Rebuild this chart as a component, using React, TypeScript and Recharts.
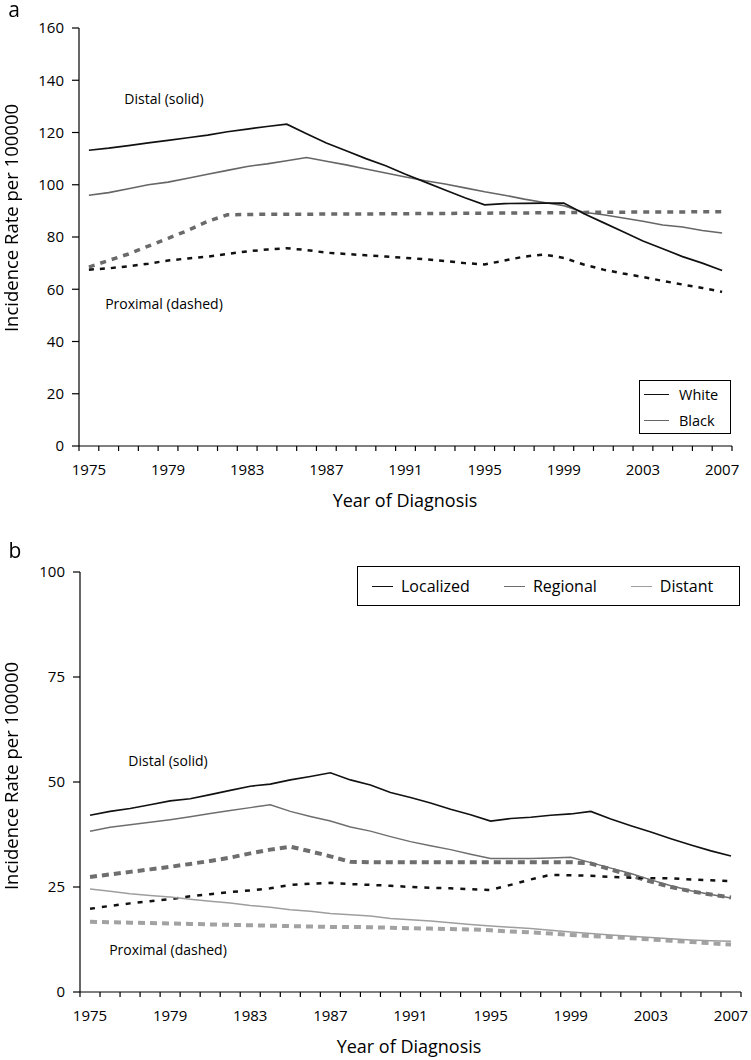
import React from "react";
import { LineChart, Line, XAxis, YAxis, Legend } from "recharts";

const FONT = "'Open Sans', sans-serif";

const years = [
  1975, 1976, 1977, 1978, 1979, 1980, 1981, 1982, 1983, 1984, 1985, 1986, 1987, 1988, 1989, 1990, 1991,
  1992, 1993, 1994, 1995, 1996, 1997, 1998, 1999, 2000, 2001, 2002, 2003, 2004, 2005, 2006, 2007,
];
const yearLabels = [1975, 1979, 1983, 1987, 1991, 1995, 1999, 2003, 2007];
const yTicksA = [0, 20, 40, 60, 80, 100, 120, 140, 160];
const yTicksB = [0, 25, 50, 75, 100];
const legendA = ["White", "Black"];
const legendB = ["Localized", "Regional", "Distant"];

// panel a: race
const whiteDistal = [
  113.2, 114, 115, 116, 117, 118, 119, 120.3, 121.3, 122.3, 123.2, 119.5, 116, 113, 110, 107.3, 104,
  101, 98, 95, 92.3, 92.8, 92.9, 93, 93, 89, 85.5, 82, 78.5, 75.5, 72.5, 70, 67.2,
];
const blackDistal = [
  96, 97, 98.5, 100, 101, 102.5, 104, 105.5, 107, 108, 109.2, 110.4, 109, 107.6, 106, 104.5, 103, 101.5,
  100.3, 98.8, 97.3, 96, 94.5, 93.2, 92, 89.5, 88.5, 87.3, 86, 84.6, 83.8, 82.5, 81.5,
];
const whiteProx = [
  67.5, 68, 68.8, 69.8, 71, 71.8, 72.5, 73.5, 74.5, 75.2, 75.7, 75, 74, 73.5, 73, 72.5, 72, 71.5, 70.8,
  70, 69.5, 71, 72.5, 73.3, 72, 69.5, 67.5, 66, 64.7, 63.2, 61.8, 60.5, 59,
];
const blackProx = [
  68.5, 71, 73.5, 76.5, 79.5, 82.5, 86, 88.5, 88.6, 88.7, 88.7, 88.7, 88.8, 88.8, 88.8, 88.9, 88.9, 89,
  89, 89.1, 89.1, 89.2, 89.2, 89.3, 89.3, 89.4, 89.5, 89.5, 89.6, 89.6, 89.6, 89.7, 89.7,
];

// panel b: stage
const localizedDistal = [
  42.1, 43, 43.7, 44.6, 45.5, 46, 47, 48, 49, 49.5, 50.5, 51.3, 52.2, 50.5, 49.3, 47.5, 46.3, 45, 43.5,
  42.2, 40.7, 41.3, 41.6, 42.1, 42.4, 43, 41.2, 39.6, 38.1, 36.5, 35, 33.6, 32.4,
];
const regionalDistal = [
  38.3, 39.2, 39.8, 40.4, 41, 41.7, 42.5, 43.2, 43.9, 44.6, 43, 41.8, 40.7, 39.3, 38.3, 37, 35.8, 34.8,
  33.9, 32.8, 31.8, 31.8, 31.8, 31.9, 32.1, 30.8, 29.5, 28.2, 26.7, 25.3, 24.1, 23.2, 22.4,
];
const distantDistal = [
  24.5, 24, 23.4, 23, 22.6, 22.1, 21.6, 21.2, 20.6, 20.2, 19.6, 19.2, 18.7, 18.4, 18.1, 17.5, 17.2, 16.9,
  16.5, 16.1, 15.7, 15.4, 15.1, 14.7, 14.3, 13.9, 13.6, 13.3, 13, 12.7, 12.4, 12.2, 12.1,
];
const localizedProx = [
  19.8, 20.5, 21.1, 21.6, 22.1, 22.8, 23.3, 23.8, 24.2, 24.7, 25.5, 25.8, 26, 25.7, 25.5, 25.3, 25, 24.8,
  24.7, 24.5, 24.3, 25.5, 26.8, 27.9, 27.8, 27.7, 27.4, 27.2, 27.1, 27.1, 26.8, 26.6, 26.4,
];
const regionalProx = [
  27.4, 28, 28.6, 29.2, 29.8, 30.5, 31.2, 32, 33, 33.9, 34.6, 33.5, 32.3, 31, 30.9, 30.9, 30.9, 30.9,
  30.9, 30.9, 30.9, 30.9, 30.9, 30.9, 30.9, 30.6, 29.2, 27.7, 26.3, 25, 24, 23.2, 22.5,
];
const distantProx = [
  16.7, 16.6, 16.5, 16.4, 16.3, 16.2, 16.1, 16, 15.9, 15.8, 15.7, 15.6, 15.5, 15.5, 15.4, 15.3, 15.2, 15.1,
  15, 14.9, 14.7, 14.4, 14.2, 13.9, 13.6, 13.3, 13.1, 12.8, 12.5, 12.2, 11.9, 11.6, 11.3,
];

const dataA = years.map((year, i) => ({
  year,
  whiteDistal: whiteDistal[i],
  blackDistal: blackDistal[i],
  whiteProx: whiteProx[i],
  blackProx: blackProx[i],
}));

const dataB = years.map((year, i) => ({
  year,
  localizedDistal: localizedDistal[i],
  regionalDistal: regionalDistal[i],
  distantDistal: distantDistal[i],
  localizedProx: localizedProx[i],
  regionalProx: regionalProx[i],
  distantProx: distantProx[i],
}));

// tick marks sit between years, labels sit on the year itself
const boundaries = [...years.map((y) => y - 0.5), years[years.length - 1] + 0.5];
const xTicks = [...boundaries, ...yearLabels].sort((a, b) => a - b);
const xDomain: [number, number] = [boundaries[0], boundaries[boundaries.length - 1]];

const YearTick = (props: any) => {
  const { x, y, payload } = props;
  const v = payload.value;
  if (!Number.isInteger(v)) {
    return <line x1={x} y1={y} x2={x} y2={y + 5} stroke="#000" strokeWidth={1.2} />;
  }
  return (
    <text x={x} y={y + 24} dy="0.35em" textAnchor="middle" fontSize={15} fill="#000" fontFamily={FONT}>
      {v}
    </text>
  );
};

const BoxLegend = ({ payload, order, vertical, fontSize, lineW }: any) => {
  const items = order
    .map((name: string) => (payload || []).find((e: any) => e.value === name))
    .filter(Boolean);
  return (
    <div
      style={{
        boxSizing: "border-box",
        width: "100%",
        height: "100%",
        border: "1.6px solid #000",
        display: "flex",
        flexDirection: vertical ? "column" : "row",
        justifyContent: vertical ? "center" : "flex-start",
        alignItems: vertical ? "flex-start" : "center",
        paddingLeft: vertical ? 4 : 14,
        fontFamily: FONT,
        fontSize,
        color: "#000",
      }}
    >
      {items.map((e: any) => (
        <div
          key={e.value}
          style={{
            display: "flex",
            alignItems: "center",
            height: vertical ? 27 : "auto",
            marginRight: vertical ? 0 : 34,
          }}
        >
          <div style={{ width: lineW, borderTop: `1.6px solid ${e.color}`, marginRight: vertical ? 10 : 8 }} />
          <span>{e.value}</span>
        </div>
      ))}
    </div>
  );
};

const axisStroke = { stroke: "#000", strokeWidth: 1.2 };

const Note = ({ x, y, size = 14, children, rotate = false }: any) => (
  <div
    style={{
      position: "absolute",
      left: x,
      top: y,
      transform: `translate(-50%, -50%)${rotate ? " rotate(-90deg)" : ""}`,
      whiteSpace: "nowrap",
      fontSize: size,
      fontFamily: FONT,
      color: "#000",
      lineHeight: 1,
    }}
  >
    {children}
  </div>
);

export default function App() {
  return (
    <div style={{ position: "fixed", left: 0, top: 0, width: 751, height: 1060, background: "#fff" }}>
      <div style={{ position: "absolute", left: 0, top: 0 }}>
        <LineChart width={751} height={520} data={dataA} margin={{ top: 28, right: 19, left: 0, bottom: 0 }}>
          <XAxis
            type="number"
            dataKey="year"
            domain={xDomain}
            ticks={xTicks}
            interval={0}
            tickSize={0}
            tickMargin={0}
            tickLine={false}
            tick={(p: any) => <YearTick {...p} />}
            axisLine={axisStroke}
            height={74}
          />
          <YAxis
            type="number"
            domain={[0, 160]}
            ticks={yTicksA}
            interval={0}
            width={79}
            tickSize={7}
            tickMargin={8}
            axisLine={axisStroke}
            tickLine={axisStroke}
            tick={{ fontSize: 15, fill: "#000", fontFamily: FONT }}
          />
          <Legend
            layout="vertical"
            align="center"
            verticalAlign="middle"
            wrapperStyle={{ left: 639, top: 380, width: 92, height: 54 }}
            content={(p: any) => (
              <BoxLegend payload={p.payload} order={legendA} vertical fontSize={14.5} lineW={25} />
            )}
          />
          <Line dataKey="blackProx" name="Black prox" stroke="#6a6a6a" strokeWidth={3.5} strokeDasharray="6 6" dot={false} isAnimationActive={false} legendType="none" />
          <Line dataKey="whiteProx" name="White prox" stroke="#111" strokeWidth={2.5} strokeDasharray="5 6" dot={false} isAnimationActive={false} legendType="none" />
          <Line dataKey="blackDistal" name="Black" stroke="#666" strokeWidth={1.6} dot={false} isAnimationActive={false} />
          <Line dataKey="whiteDistal" name="White" stroke="#111" strokeWidth={1.7} dot={false} isAnimationActive={false} />
        </LineChart>
      </div>

      <div style={{ position: "absolute", left: 0, top: 520 }}>
        <LineChart width={751} height={540} data={dataB} margin={{ top: 52, right: 10, left: 0, bottom: 0 }}>
          <XAxis
            type="number"
            dataKey="year"
            domain={xDomain}
            ticks={xTicks}
            interval={0}
            tickSize={0}
            tickMargin={0}
            tickLine={false}
            tick={(p: any) => <YearTick {...p} />}
            axisLine={axisStroke}
            height={68}
          />
          <YAxis
            type="number"
            domain={[0, 100]}
            ticks={yTicksB}
            interval={0}
            width={80}
            tickSize={7}
            tickMargin={8}
            axisLine={axisStroke}
            tickLine={axisStroke}
            tick={{ fontSize: 15, fill: "#000", fontFamily: FONT }}
          />
          <Legend
            layout="vertical"
            align="center"
            verticalAlign="middle"
            wrapperStyle={{ left: 357, top: 46, width: 383, height: 40 }}
            content={(p: any) => <BoxLegend payload={p.payload} order={legendB} fontSize={16} lineW={21} />}
          />
          <Line dataKey="distantProx" name="Distant prox" stroke="#a2a2a2" strokeWidth={4} strokeDasharray="7 5" dot={false} isAnimationActive={false} legendType="none" />
          <Line dataKey="regionalProx" name="Regional prox" stroke="#6e6e6e" strokeWidth={4} strokeDasharray="7 5" dot={false} isAnimationActive={false} legendType="none" />
          <Line dataKey="localizedProx" name="Localized prox" stroke="#111" strokeWidth={2.5} strokeDasharray="5 7" dot={false} isAnimationActive={false} legendType="none" />
          <Line dataKey="localizedDistal" name="Localized" stroke="#111" strokeWidth={1.6} dot={false} isAnimationActive={false} />
          <Line dataKey="regionalDistal" name="Regional" stroke="#6e6e6e" strokeWidth={1.5} dot={false} isAnimationActive={false} />
          <Line dataKey="distantDistal" name="Distant" stroke="#9e9e9e" strokeWidth={1.5} dot={false} isAnimationActive={false} />
        </LineChart>
      </div>

      <Note x={14} y={9} size={21}>a</Note>
      <Note x={11} y={218} size={18.5} rotate>Incidence Rate per 100000</Note>
      <Note x={405} y={500} size={18}>Year of Diagnosis</Note>
      <Note x={164} y={99}>Distal (solid)</Note>
      <Note x={164} y={304}>Proximal (dashed)</Note>

      <Note x={15} y={550} size={21}>b</Note>
      <Note x={11} y={776} size={18.5} rotate>Incidence Rate per 100000</Note>
      <Note x={409} y={1046} size={18}>Year of Diagnosis</Note>
      <Note x={168} y={761}>Distal (solid)</Note>
      <Note x={168} y={950}>Proximal (dashed)</Note>
    </div>
  );
}
